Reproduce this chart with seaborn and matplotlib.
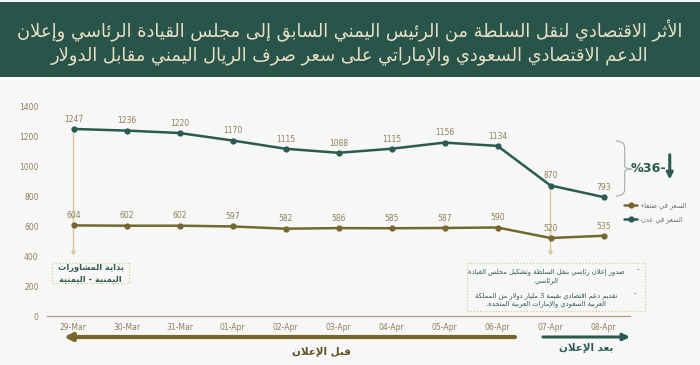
import re
import matplotlib
matplotlib.use('Agg')
import matplotlib.pyplot as plt
import seaborn as sns
from matplotlib.patches import Rectangle, PathPatch
from matplotlib.path import Path

# data
dates = ['29-Mar', '30-Mar', '31-Mar', '01-Apr', '02-Apr', '03-Apr',
         '04-Apr', '05-Apr', '06-Apr', '07-Apr', '08-Apr']
aden = [1247, 1236, 1220, 1170, 1115, 1088, 1115, 1156, 1134, 870, 793]
sanaa = [604, 602, 602, 597, 582, 586, 585, 587, 590, 520, 535]
yticks = [0, 200, 400, 600, 800, 1000, 1200, 1400]

title_lines = ['الأثر الاقتصادي لنقل السلطة من الرئيس اليمني السابق إلى مجلس القيادة الرئاسي وإعلان',
               'الدعم الاقتصادي السعودي والإماراتي على سعر صرف الريال اليمني مقابل الدولار']
label_sanaa = 'السعر في صنعاء'
label_aden = 'السعر في عدن'
note_start = ['بداية المشاورات', 'اليمنية - اليمنية']
note_item1 = ['صدور إعلان رئاسي بنقل السلطة وتشكيل مجلس القيادة', 'الرئاسي.']
note_item2 = ['تقديم دعم اقتصادي بقيمة 3 مليار دولار من المملكة', 'العربية السعودي والإمارات العربية المتحدة.']
before_txt = 'قبل الإعلان'
after_txt = 'بعد الإعلان'
change_txt = '%36-'

# --- minimal arabic shaping (matplotlib has no complex text layout) ---
AR_LETTERS = 'ءآأؤإئابةتثجحخدذرزسشصضطظعغفقكلمنهوىي'
AR_NFORMS = [1, 2, 2, 2, 2, 4, 2, 4, 2, 4, 4, 4, 4, 4, 2, 2, 2, 2,
             4, 4, 4, 4, 4, 4, 4, 4, 4, 4, 4, 4, 4, 4, 4, 2, 2, 4]
FORMS = {}
cp = 0xFE80
for ch, n in zip(AR_LETTERS, AR_NFORMS):
    FORMS[ch] = [chr(cp + k) for k in range(n)]
    cp += n
LAM_ALEF = {'آ': 0xFEF5, 'أ': 0xFEF7, 'إ': 0xFEF9, 'ا': 0xFEFB}


def shape_line(text):
    out = []
    prev_join = False
    i = 0
    while i < len(text):
        c = text[i]
        if c not in FORMS:
            out.append(c)
            prev_join = False
            i += 1
            continue
        if c == 'ل' and i + 1 < len(text) and text[i + 1] in LAM_ALEF:
            out.append(chr(LAM_ALEF[text[i + 1]] + (1 if prev_join else 0)))
            prev_join = False
            i += 2
            continue
        nxt = text[i + 1] if i + 1 < len(text) else ''
        f = FORMS[c]
        to_next = len(f) == 4 and nxt in FORMS and nxt != 'ء'
        if prev_join and to_next:
            g = f[3]
        elif prev_join:
            g = f[1] if len(f) > 1 else f[0]
        elif to_next:
            g = f[2]
        else:
            g = f[0]
        out.append(g)
        prev_join = to_next
        i += 1
    s = ''.join(out)[::-1]
    return re.sub(r'[0-9]+', lambda m: m.group(0)[::-1], s)


def ar(lines):
    if isinstance(lines, str):
        lines = [lines]
    return '\n'.join(shape_line(l) for l in lines)


# colours
header_col = '#285449'
aden_col = '#2b5a50'
sanaa_col = '#76672f'
label_col = '#8e8058'
guide_col = '#d8cc90'
note_col = '#2f5a50'
bg_col = '#f7f7f7'

sns.set_style('white')
plt.rcParams['font.family'] = ['DejaVu Sans']

W, H = 700, 365
fig = plt.figure(figsize=(7, 3.65), dpi=100, facecolor=bg_col)
fig.patches.append(Rectangle((0, 1 - 77 / H), 1, 75 / H, transform=fig.transFigure,
                             facecolor=header_col, edgecolor='none', zorder=0))
fig.text(0.5, 1 - 31 / H, ar(title_lines[0]), ha='center', va='center',
         fontsize=12.9, color='#e9e0c6')
fig.text(0.5, 1 - 56 / H, ar(title_lines[1]), ha='center', va='center',
         fontsize=12.9, color='#e9e0c6')

ax = fig.add_axes([47 / W, 1 - 316 / H, 583 / W, 210 / H])
ax.set_facecolor('none')
pos = list(range(len(dates)))

sns.lineplot(x=pos, y=sanaa, ax=ax, color=sanaa_col, linewidth=1.8, marker='o',
             markersize=4.5, markeredgewidth=0, label=ar(label_sanaa), zorder=3)
sns.lineplot(x=pos, y=aden, ax=ax, color=aden_col, linewidth=1.8, marker='o',
             markersize=4.5, markeredgewidth=0, label=ar(label_aden), zorder=3)

for i, v in enumerate(aden):
    ax.annotate(str(v), (i, v), xytext=(0, 7), textcoords='offset points',
                ha='center', va='center', fontsize=5.5, color=label_col)
for i, v in enumerate(sanaa):
    ax.annotate(str(v), (i, v), xytext=(0, 7), textcoords='offset points',
                ha='center', va='center', fontsize=5.5, color=label_col)

ax.set_xlim(-0.5, len(dates) - 0.5)
ax.set_ylim(0, 1400)
ax.set_xticks(pos)
ax.set_xticklabels(dates)
ax.set_xticks([p - 0.5 for p in pos] + [len(dates) - 0.5], minor=True)
ax.set_yticks(yticks)
ax.tick_params(axis='x', which='major', length=0, pad=5, labelsize=5.5, labelcolor=label_col)
ax.tick_params(axis='x', which='minor', length=3, width=0.8, color='#a89d78', direction='out')
ax.tick_params(axis='y', length=0, pad=6, labelsize=5.5, labelcolor=label_col)
for s in ['left', 'top', 'right']:
    ax.spines[s].set_visible(False)
ax.spines['bottom'].set_color('#a89d78')
ax.spines['bottom'].set_linewidth(0.9)
ax.set_xlabel('')
ax.set_ylabel('')

# guide arrows from the event points
for i in [0, 9]:
    ax.annotate('', xy=(i, 400), xytext=(i, aden[i]), zorder=1,
                arrowprops=dict(arrowstyle='-|>', color=guide_col, lw=1,
                                mutation_scale=6, shrinkA=0, shrinkB=0))

# note boxes
ax.add_patch(Rectangle((-0.4, 220), 1.44, 133, fill=False, edgecolor=guide_col,
                       linestyle=(0, (1, 1.5)), lw=0.9, clip_on=False))
ax.text(0.32, 287, ar(note_start), ha='center', va='center', fontsize=6,
        fontweight='bold', color=note_col, linespacing=1.3)

ax.add_patch(Rectangle((7.43, 33), 3.36, 320, fill=False, edgecolor=guide_col,
                       linestyle=(0, (1, 1.5)), lw=0.9, clip_on=False))
ax.text(8.92, 262, ar(note_item1), ha='center', va='center', fontsize=4.9,
        color=note_col, linespacing=1.15, clip_on=False)
ax.text(8.92, 107, ar(note_item2), ha='center', va='center', fontsize=4.9,
        color=note_col, linespacing=1.15, clip_on=False)
ax.text(10.64, 310, '-', ha='center', va='center', fontsize=5, color=note_col)
ax.text(10.59, 155, '-', ha='center', va='center', fontsize=5, color=note_col)

# brace and change figure
verts = [(10.23, 1167), (10.40, 1167), (10.40, 1120),
         (10.40, 1000),
         (10.40, 980), (10.53, 980),
         (10.40, 980), (10.40, 960),
         (10.40, 845),
         (10.40, 800), (10.23, 800)]
codes = [Path.MOVETO, Path.CURVE3, Path.CURVE3, Path.LINETO,
         Path.CURVE3, Path.CURVE3, Path.CURVE3, Path.CURVE3,
         Path.LINETO, Path.CURVE3, Path.CURVE3]
ax.add_patch(PathPatch(Path(verts, codes), fill=False, edgecolor='#a9b6b3',
                       lw=0.9, clip_on=False))
ax.text(10.85, 980, change_txt, ha='center', va='center', fontsize=9.2,
        fontweight='bold', color=aden_col)
ax.annotate('', xy=(11.25, 910), xytext=(11.25, 1075), annotation_clip=False,
            arrowprops=dict(arrowstyle='-|>', color=aden_col, lw=2.2,
                            mutation_scale=9, shrinkA=0, shrinkB=0))

ax.legend(loc='upper left', bbox_to_anchor=(624 / W, 1 - 202 / H),
          bbox_transform=fig.transFigure, frameon=False, fontsize=4.8,
          handlelength=2.0, handletextpad=0.6, labelcolor='#6a6a6a',
          labelspacing=1.1, borderaxespad=0, borderpad=0)

# before / after arrows
fig_arrow = dict(xycoords='figure fraction', textcoords='figure fraction')
ax.annotate('', xy=(64 / W, 1 - 337 / H), xytext=(515 / W, 1 - 337 / H), **fig_arrow,
            arrowprops=dict(arrowstyle='-|>', color=sanaa_col, lw=3,
                            mutation_scale=11, shrinkA=0, shrinkB=0))
ax.annotate('', xy=(630 / W, 1 - 337 / H), xytext=(543 / W, 1 - 337 / H), **fig_arrow,
            arrowprops=dict(arrowstyle='-|>', color=aden_col, lw=2.2,
                            mutation_scale=10, shrinkA=0, shrinkB=0))
fig.text(321 / W, 1 - 352 / H, ar(before_txt), ha='center', va='center',
         fontsize=7.5, fontweight='bold', color='#5f5020')
fig.text(586 / W, 1 - 348 / H, ar(after_txt), ha='center', va='center',
         fontsize=7.5, fontweight='bold', color=aden_col)

fig.savefig('out.png', dpi=100, facecolor=bg_col)
